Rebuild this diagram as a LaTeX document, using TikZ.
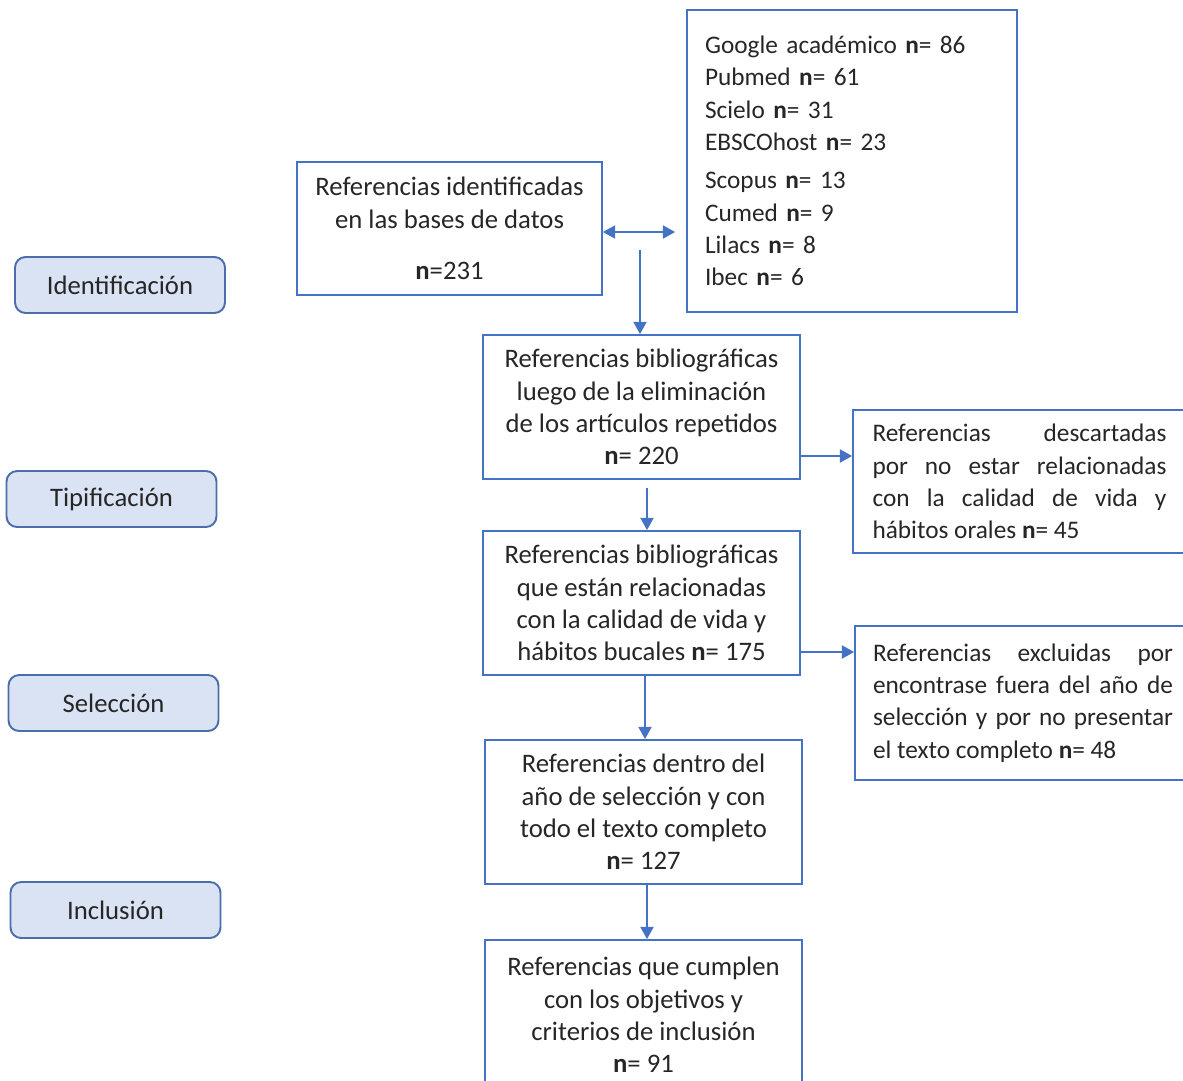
\documentclass[tikz,border=0pt]{standalone}
\usepackage{fontspec}
\setmainfont{Carlito}
\usepackage{tikz}
\usetikzlibrary{arrows.meta, positioning}

\definecolor{azul}{HTML}{4472C4}
\definecolor{fasefill}{HTML}{DAE3F3}
\definecolor{fasedraw}{HTML}{4A6FA8}

\begin{document}
\begin{tikzpicture}[
      x=0.02cm, y=-0.02cm,
      every node/.style={font=\fontsize{15.2}{18.4}\selectfont, text=black!85},
      fase/.style={draw=fasedraw, fill=fasefill, line width=1.1pt, rounded corners=6pt, minimum width=4.2cm, minimum height=1.12cm, align=center},
      caja/.style={draw=azul, line width=1.1pt, minimum width=6.34cm, minimum height=2.88cm, align=center, inner sep=0pt},
      lado/.style={draw=azul, line width=1.1pt, align=left, inner xsep=0.36cm, inner ysep=0pt, font=\fontsize{14.4}{18.4}\selectfont},
      flecha/.style={draw=azul, line width=1.1pt, -{Triangle[length=7pt, width=7.5pt]}},
      dflecha/.style={draw=azul, line width=1.1pt, {Triangle[length=7pt, width=7.5pt]}-{Triangle[length=7pt, width=7.5pt]}},
    ]
    \useasboundingbox (0,0) rectangle (1183,1080);

    % fases
    \node[fase] (ident) at (120,285) {Identificación};
    \node[fase] (tipif) at (111.5,499) {Tipificación};
    \node[fase] (selec) at (113.5,703) {Selección};
    \node[fase] (inclu) at (115.5,910) {Inclusión};

    % columna central
    \node[caja, minimum width=6.1cm, minimum height=2.66cm] (refid) at (449.5,228.5)
      {Referencias identificadas\\en las bases de datos\\[10.8pt]\textbf{n}=231};
    \node[lado, minimum width=6.6cm, minimum height=6.04cm, text width=5.88cm] (bases) at (852,161)
      {Google académico \textbf{n}= 86\\Pubmed \textbf{n}= 61\\Scielo \textbf{n}= 31\\EBSCOhost \textbf{n}= 23\\[3.4pt]
       Scopus \textbf{n}= 13\\Cumed \textbf{n}= 9\\Lilacs \textbf{n}= 8\\Ibec \textbf{n}= 6};

    \node[caja] (n220) at (641.5,407)
      {Referencias bibliográficas\\luego de la eliminación\\de los artículos repetidos\\\textbf{n}= 220};
    \node[caja] (n175) at (641.5,603)
      {Referencias bibliográficas\\que están relacionadas\\con la calidad de vida y\\hábitos bucales \textbf{n}= 175};
    \node[caja] (n127) at (643.5,812)
      {Referencias dentro del\\año de selección y con\\todo el texto completo\\\textbf{n}= 127};
    \node[caja, minimum height=3.0cm] (n91) at (643.5,1015)
      {Referencias que cumplen\\con los objetivos y\\criterios de inclusión\\\textbf{n}= 91};

    % excluidas
    \node[lado, align=justify, minimum width=6.66cm, minimum height=2.86cm, text width=5.88cm] (n45) at (1019.5,481.5)
      {Referencias descartadas\linebreak por no estar relacionadas\linebreak con la calidad de vida y\linebreak hábitos orales \textbf{n}= 45};
    \node[lado, align=justify, minimum width=6.72cm, minimum height=3.08cm, text width=6.0cm] (n48) at (1023,703)
      {Referencias excluidas por\linebreak encontrase fuera del año de\linebreak selección y por no presentar\linebreak el texto completo \textbf{n}= 48};

    \coordinate (inicio) at (640,250);

    \draw[dflecha] ([yshift=-0.07cm]refid.east) -- ([xshift=-0.22cm,yshift=-0.07cm]bases.west |- refid.east);
    \draw[flecha] (inicio) -- (inicio |- n220.north);

    \draw[flecha, shorten <=0.16cm] ([xshift=0.11cm]n220.south) -- ([xshift=0.11cm]n220.south |- n175.north);
    \draw[flecha] ([yshift=-0.98cm]n220.east) -- ([yshift=-0.98cm]n220.east -| n45.west);

    \draw[flecha] ([xshift=0.07cm]n175.south) -- ([xshift=0.07cm]n175.south |- n127.north);
    \draw[flecha] ([yshift=-0.98cm]n175.east) -- ([yshift=-0.98cm]n175.east -| n48.west);

    \draw[flecha] ([xshift=0.07cm]n127.south) -- ([xshift=0.07cm]n127.south |- n91.north);
  \end{tikzpicture}
\end{document}
